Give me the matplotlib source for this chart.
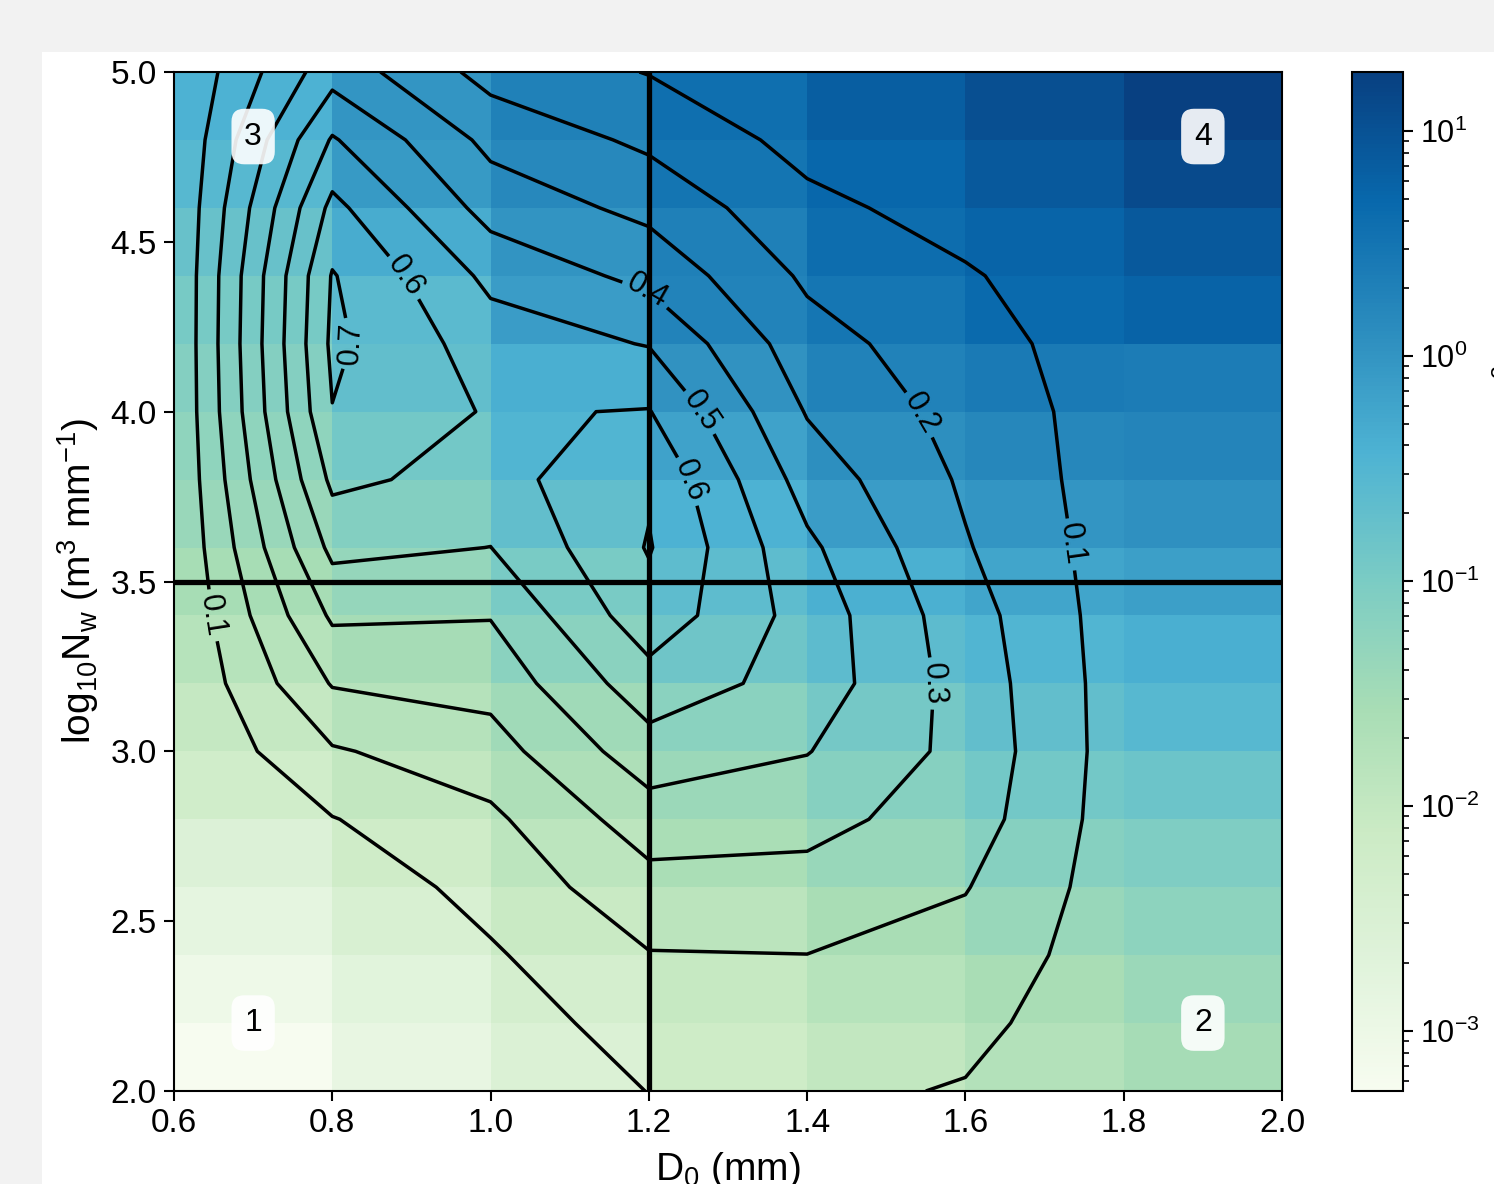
import matplotlib
matplotlib.use("Agg")
import matplotlib.pyplot as plt
from matplotlib.colors import LogNorm
from matplotlib.patches import Rectangle

plt.rcParams["font.family"] = ["Liberation Sans", "DejaVu Sans"]
plt.rcParams["mathtext.fontset"] = "custom"
plt.rcParams["mathtext.rm"] = "Liberation Sans"
plt.rcParams["mathtext.it"] = "Liberation Sans:italic"
plt.rcParams["mathtext.bf"] = "Liberation Sans:bold"

# ---- grid (cell edges == contour nodes) ----
d0_nodes = [0.6, 0.8, 1.0, 1.2, 1.4, 1.6, 1.8, 2.0]
lognw_nodes = [2.0, 2.2, 2.4, 2.6, 2.8, 3.0, 3.2, 3.4, 3.6, 3.8,
               4.0, 4.2, 4.4, 4.6, 4.8, 5.0]

# ---- colour field (one row per log10Nw band, bottom -> top) ----
cell_values = [
    [5.4e-4, 1.3e-3, 2.8e-3, 6.6e-3, 0.011, 0.018, 0.029],   # 2.0-2.2
    [9.0e-4, 1.9e-3, 4.4e-3, 9.1e-3, 0.016, 0.026, 0.039],   # 2.2-2.4
    [1.5e-3, 3.4e-3, 8.1e-3, 0.014, 0.026, 0.043, 0.059],    # 2.4-2.6
    [2.6e-3, 6.0e-3, 0.013, 0.025, 0.043, 0.072, 0.091],     # 2.6-2.8
    [5.6e-3, 0.011, 0.022, 0.039, 0.072, 0.125, 0.154],      # 2.8-3.0
    [9.4e-3, 0.017, 0.034, 0.064, 0.121, 0.20, 0.28],        # 3.0-3.2
    [0.016, 0.029, 0.064, 0.14, 0.24, 0.33, 0.42],           # 3.2-3.4
    [0.028, 0.046, 0.106, 0.23, 0.41, 0.59, 0.71],           # 3.4-3.6
    [0.041, 0.079, 0.20, 0.38, 0.77, 1.00, 1.16],            # 3.6-3.8
    [0.056, 0.125, 0.33, 0.64, 1.20, 1.63, 1.75],            # 3.8-4.0
    [0.077, 0.20, 0.42, 1.08, 1.88, 2.55, 2.37],             # 4.0-4.2
    [0.11, 0.25, 0.77, 1.82, 2.94, 4.4, 5.7],                # 4.2-4.4
    [0.175, 0.46, 1.04, 2.1, 4.1, 5.45, 7.9],                # 4.4-4.6
    [0.28, 0.83, 1.56, 3.07, 5.1, 7.9, 13.2],                # 4.6-4.8
    [0.38, 1.00, 2.0, 3.8, 6.65, 11.2, 18.3],                # 4.8-5.0
]

# ---- contour field (values at nodes, bottom -> top) ----
node_values = [
    [0.0, 0.005, 0.020, 0.102, 0.115, 0.095, 0.040, 0.025],  # 2.0
    [0.0, 0.010, 0.045, 0.148, 0.150, 0.120, 0.050, 0.030],  # 2.2
    [0.0, 0.020, 0.088, 0.195, 0.199, 0.160, 0.046, 0.030],  # 2.4
    [0.0, 0.033, 0.135, 0.265, 0.264, 0.205, 0.046, 0.030],  # 2.6
    [0.0, 0.096, 0.180, 0.352, 0.332, 0.250, 0.047, 0.030],  # 2.8
    [0.0, 0.190, 0.258, 0.458, 0.404, 0.270, 0.049, 0.030],  # 3.0
    [0.0, 0.307, 0.335, 0.559, 0.460, 0.260, 0.049, 0.030],  # 3.2
    [0.0, 0.416, 0.405, 0.663, 0.458, 0.243, 0.046, 0.030],  # 3.4
    [0.0, 0.526, 0.499, 0.707, 0.420, 0.208, 0.047, 0.030],  # 3.6
    [0.0, 0.622, 0.563, 0.686, 0.357, 0.185, 0.045, 0.030],  # 3.8
    [0.0, 0.697, 0.590, 0.605, 0.293, 0.163, 0.050, 0.030],  # 4.0
    [0.0, 0.720, 0.550, 0.495, 0.239, 0.140, 0.045, 0.025],  # 4.2
    [0.0, 0.707, 0.475, 0.371, 0.183, 0.110, 0.030, 0.020],  # 4.4
    [0.0, 0.628, 0.360, 0.273, 0.125, 0.061, 0.025, 0.020],  # 4.6
    [0.0, 0.510, 0.272, 0.179, 0.067, 0.040, 0.020, 0.020],  # 4.8
    [0.0, 0.360, 0.163, 0.096, 0.030, 0.020, 0.020, 0.020],  # 5.0
]
contour_levels = [0.1, 0.2, 0.3, 0.4, 0.5, 0.6, 0.7]
label_spots = [(0.648, 3.40), (1.736, 3.61), (1.559, 4.01), (1.564, 3.20),
               (1.200, 4.37), (1.271, 4.01), (0.894, 4.40), (1.256, 3.80),
               (0.825, 4.20)]

split_d0 = 1.2
split_nw = 3.5
quadrant_names = ["1", "2", "3", "4"]
quadrant_spots = [(0.7, 2.2), (1.9, 2.2), (0.7, 4.81), (1.9, 4.81)]

x_ticks = [0.6, 0.8, 1.0, 1.2, 1.4, 1.6, 1.8, 2.0]
y_ticks = [2.0, 2.5, 3.0, 3.5, 4.0, 4.5, 5.0]

W, H = 1494, 1184
fig = plt.figure(figsize=(W / 100, H / 100), dpi=100)
fig.patch.set_facecolor("#f2f2f2")
fig.add_artist(Rectangle((42 / W, 0), 1.0, 1 - 52 / H, transform=fig.transFigure,
                         facecolor="white", edgecolor="none", zorder=-10))

ax = fig.add_axes([174 / W, 1 - 1091 / H, (1282 - 174) / W, (1091 - 72) / H])
cax = fig.add_axes([1352 / W, 1 - 1091 / H, 51 / W, (1091 - 72) / H])

mesh = ax.pcolormesh(d0_nodes, lognw_nodes, cell_values, cmap="GnBu",
                     norm=LogNorm(), shading="flat")
cs = ax.contour(d0_nodes, lognw_nodes, node_values, levels=contour_levels,
                colors="black", linewidths=2.5, zorder=3)
ax.clabel(cs, inline=True, fontsize=22, fmt="%.1f", manual=label_spots)

ax.axvline(split_d0, color="black", lw=3.8, zorder=4)
ax.axhline(split_nw, color="black", lw=3.8, zorder=4)

for name, (qx, qy) in zip(quadrant_names, quadrant_spots):
    ax.text(qx, qy, name, ha="center", va="center", fontsize=23, zorder=6,
            bbox=dict(boxstyle="round,pad=0.4", facecolor="white",
                      edgecolor="none", alpha=0.9))

ax.set_xlim(0.6, 2.0)
ax.set_ylim(2.0, 5.0)
ax.set_xticks(x_ticks)
ax.set_yticks(y_ticks)
ax.set_xticklabels([f"{v:.1f}" for v in x_ticks])
ax.set_yticklabels([f"{v:.1f}" for v in y_ticks])
ax.tick_params(labelsize=24, length=7, width=1.5, pad=5.5)
for s in ax.spines.values():
    s.set_linewidth(1.5)
ax.set_xlabel("D$_0$ (mm)", fontsize=28, labelpad=8)
ax.set_ylabel(r"log$_{10}$N$_{\rm w}$ (m$^3$ mm$^{-1}$)", fontsize=28, labelpad=7)

cb = fig.colorbar(mesh, cax=cax)
cb.outline.set_linewidth(1.5)
cax.tick_params(which="major", labelsize=22, length=7, width=1.5, pad=5)
cax.tick_params(which="minor", length=4, width=1.2)
cb.set_label("Accumulated rainfall (mm km$^{2}$)", fontsize=24, labelpad=8)

fig.savefig("out.png", dpi=100, facecolor=fig.get_facecolor())
